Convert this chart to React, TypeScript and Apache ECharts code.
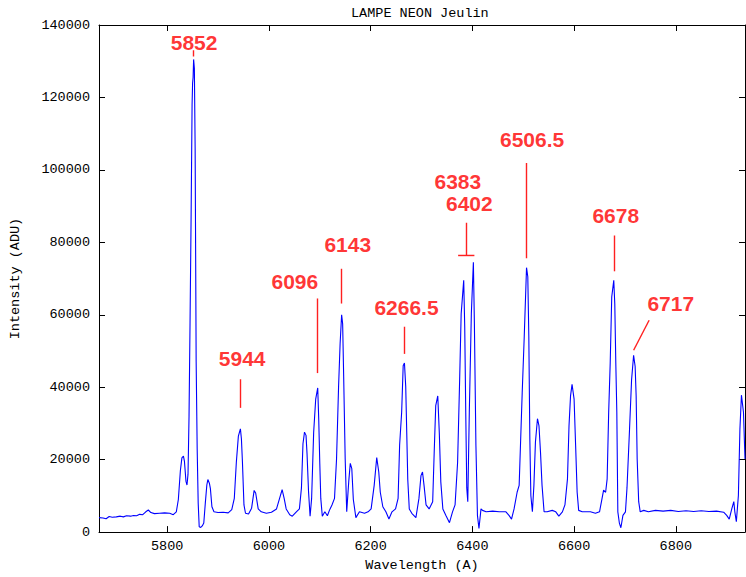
import React, { useEffect, useRef } from "react";
import * as echarts from "echarts";

// Neon lamp spectrum: wavelength (Å) and intensity (ADU)
const wavelength = [
  5666, 5674, 5680, 5686, 5692, 5700, 5708, 5714, 5720, 5728, 5734, 5740, 5746, 5752, 5758, 5763, 5768, 5775,
  5785, 5795, 5805, 5812, 5818, 5822, 5826, 5829, 5832, 5834, 5837, 5839, 5841, 5843, 5845, 5847, 5849, 5850,
  5851, 5852, 5853.5, 5855, 5857, 5859, 5861, 5863, 5866, 5869, 5872, 5875, 5878, 5880, 5883, 5885, 5888, 5892,
  5900, 5910, 5920, 5927, 5932, 5936, 5940, 5944, 5946, 5948, 5951, 5954, 5960, 5966, 5971, 5974, 5979, 5985,
  5995, 6005, 6015, 6021, 6026, 6030, 6034, 6041, 6046, 6054, 6060, 6064, 6067, 6070, 6073, 6075, 6078, 6081,
  6084, 6088, 6092, 6096, 6098, 6100, 6102, 6105, 6110, 6115, 6119, 6124, 6129, 6133, 6137, 6140, 6143, 6145,
  6147, 6150, 6153, 6157, 6160, 6163, 6166, 6171, 6178, 6188, 6195, 6201, 6207, 6212, 6216, 6219, 6224, 6230,
  6236, 6242, 6249, 6254, 6257, 6261, 6264, 6266.5, 6269, 6271, 6273, 6276, 6281, 6289, 6295, 6299, 6302, 6305,
  6309, 6315, 6322, 6325, 6328, 6332, 6335, 6338, 6342, 6348, 6355, 6361, 6366, 6371, 6375, 6378, 6383, 6385,
  6387, 6389, 6391, 6394, 6398, 6402, 6404, 6407, 6410, 6413, 6417, 6420, 6427, 6440, 6453, 6466, 6472, 6477,
  6482, 6488, 6492, 6495, 6498, 6502, 6506.5, 6509, 6511, 6513, 6515, 6518, 6521, 6524, 6528, 6531, 6534, 6537,
  6541, 6547, 6557, 6564, 6570, 6577, 6582, 6587, 6590, 6593, 6596, 6600, 6603, 6606, 6609, 6616, 6626, 6632,
  6642, 6650, 6655, 6658, 6662, 6665, 6668, 6671, 6674, 6678, 6680, 6682, 6684, 6686, 6689, 6692, 6696, 6701,
  6704, 6709, 6713, 6717, 6720, 6722, 6724, 6727, 6730, 6737, 6746, 6760, 6775, 6790, 6805, 6820, 6835, 6850,
  6865, 6880, 6894, 6900, 6905, 6910, 6914, 6916, 6919, 6923, 6926, 6929, 6933, 6936,
];

const intensity = [
  4000, 3900, 3700, 4300, 4100, 4200, 4400, 4200, 4500, 4400, 4600, 4500, 4900, 4800, 5600, 6100, 5400, 5100,
  5200, 5300, 5200, 4800, 5600, 9000, 17000, 20500, 21000, 19500, 14000, 13000, 16000, 32000, 58000, 86000, 118000, 124000,
  125500, 130500, 128000, 106000, 47000, 23000, 8000, 1500, 1300, 1700, 2500, 8000, 13000, 14500, 13500, 12000, 7000, 5600,
  5400, 5500, 5300, 6200, 9300, 19300, 26500, 28500, 25700, 19300, 7500, 5200, 5000, 6600, 11500, 10800, 6400, 5600,
  5200, 5500, 6400, 9300, 11700, 9300, 6400, 4800, 4400, 5600, 6400, 12200, 24400, 27600, 26700, 21600, 11000, 4400,
  9300, 27500, 36700, 39800, 31000, 19300, 9300, 4400, 5600, 4500, 6000, 7500, 9300, 20200, 40200, 52000, 60000, 57500,
  43000, 20200, 5600, 14000, 19000, 17500, 9000, 4000, 5600, 5200, 5600, 6400, 12900, 20600, 16600, 11000, 7000, 5600,
  3600, 5600, 6400, 9300, 24000, 33100, 45900, 46700, 40200, 27500, 14600, 6400, 5200, 4000, 9300, 15600, 16600, 12900,
  7500, 6400, 8400, 22100, 34900, 37600, 27500, 13800, 6400, 4600, 2600, 5600, 7500, 19300, 42000, 60300, 69500, 56600,
  33100, 12200, 8400, 33100, 60300, 74500, 57500, 24000, 4600, 1000, 6400, 6000, 5600, 5800, 5600, 5600, 4600, 3600,
  6400, 11000, 12900, 25700, 38500, 54000, 73000, 70500, 54000, 25700, 10100, 5600, 12900, 24800, 31300, 29300, 22000, 12900,
  5600, 5600, 6000, 5600, 4400, 5600, 7500, 14700, 29300, 37600, 40800, 36700, 24000, 11000, 6000, 5600, 5600, 5600,
  5200, 5600, 9300, 11600, 11000, 14700, 33100, 46700, 64900, 69500, 63000, 46700, 33100, 5600, 2500, 1200, 4600, 5600,
  12200, 28400, 42000, 48800, 45800, 37600, 20200, 8400, 5600, 6000, 5600, 6000, 5800, 6000, 5700, 5900, 5700, 5900,
  5700, 5800, 5500, 4600, 3600, 6400, 8400, 5600, 2900, 10100, 28400, 37800, 33100, 20200,
];

const xTicks = [5800, 6000, 6200, 6400, 6600, 6800];

// Line identifications and where their text sits (data units)
const lineNames = ["5852", "5944", "6096", "6143", "6266.5", "6383", "6402", "6506.5", "6678", "6717"];
const nameWavelength = [5853, 5947.5, 6051, 6155, 6270.5, 6371.5, 6394, 6517.5, 6682, 6790];
const nameIntensity = [135200, 48000, 69300, 79400, 61900, 96700, 90700, 108400, 87400, 63100];

// Leader segments: [λ start, I start, λ end, I end]
const leaders: [number, number, number, number][] = [
  [5852, 133000, 5852, 131300],
  [5944, 42200, 5944, 34300],
  [6096, 64500, 6096, 43900],
  [6143, 72700, 6143, 63100],
  [6266.5, 56700, 6266.5, 49200],
  [6388, 85400, 6388, 76300],
  [6372, 76300, 6404, 76300],
  [6506.5, 101900, 6506.5, 75600],
  [6678, 81900, 6678, 72000],
  [6747.5, 58500, 6717, 50200],
];

const MONO = "'Liberation Mono', 'DejaVu Sans Mono', monospace";
const SANS = "'Liberation Sans', Arial, Helvetica, sans-serif";

export default function App() {
  const ref = useRef<HTMLDivElement>(null);

  useEffect(() => {
    if (!ref.current) return;
    const chart = echarts.init(ref.current, undefined, { renderer: "svg" });

    const tickStyle = { show: true, inside: true, length: 6, lineStyle: { color: "#000", width: 1 } };
    const axisLine = { show: true, onZero: false, lineStyle: { color: "#000", width: 1 } };
    const labelFont = { fontFamily: MONO, fontSize: 13.5, color: "#000" };
    const plain = (v: number) => String(v);

    chart.setOption({
      animation: false,
      backgroundColor: "#fff",
      title: {
        text: "LAMPE NEON Jeulin",
        left: 351,
        top: 6,
        padding: 0,
        textStyle: { fontFamily: MONO, fontSize: 13.5, fontWeight: "normal", color: "#000" },
      },
      grid: { left: 97, top: 25, width: 648, height: 512, containLabel: false },
      xAxis: [
        {
          type: "value",
          position: "bottom",
          min: 5666,
          max: 6936,
          axisLine,
          axisTick: { ...tickStyle, customValues: xTicks },
          axisLabel: { ...labelFont, margin: 7, customValues: xTicks, formatter: plain },
          splitLine: { show: false },
          name: "Wavelength (A)",
          nameLocation: "middle",
          nameGap: 25,
          nameTextStyle: labelFont,
        },
        {
          type: "value",
          position: "top",
          min: 5666,
          max: 6936,
          axisLine,
          axisTick: { ...tickStyle, customValues: xTicks },
          axisLabel: { show: false },
          splitLine: { show: false },
        },
      ],
      yAxis: [
        {
          type: "value",
          position: "left",
          min: 0,
          max: 140000,
          interval: 20000,
          axisLine,
          axisTick: tickStyle,
          axisLabel: { ...labelFont, margin: 9, formatter: plain },
          splitLine: { show: false },
          name: "Intensity (ADU)",
          nameLocation: "middle",
          nameRotate: 90,
          nameGap: 77,
          nameTextStyle: labelFont,
        },
        {
          type: "value",
          position: "right",
          min: 0,
          max: 140000,
          interval: 20000,
          axisLine,
          axisTick: tickStyle,
          axisLabel: { show: false },
          splitLine: { show: false },
        },
      ],
      series: [
        {
          type: "line",
          data: wavelength.map((w, i) => [w, intensity[i]]),
          symbol: "none",
          lineStyle: { color: "#0000ff", width: 1.1 },
          silent: true,
          z: 2,
        },
        {
          type: "lines",
          coordinateSystem: "cartesian2d",
          data: leaders.map((s) => ({ coords: [[s[0], s[1]], [s[2], s[3]]] })),
          lineStyle: { color: "#ff2020", width: 1.4, opacity: 1 },
          silent: true,
          z: 3,
        },
        {
          type: "scatter",
          data: lineNames.map((n, i) => ({ name: n, value: [nameWavelength[i], nameIntensity[i]] })),
          symbolSize: 1,
          itemStyle: { color: "rgba(0,0,0,0)" },
          label: {
            show: true,
            position: "inside",
            formatter: (p: any) => p.name,
            fontFamily: SANS,
            fontSize: 21,
            fontWeight: "bold",
            color: "#ff0000",
          },
          silent: true,
          z: 4,
        },
      ],
    });

    return () => chart.dispose();
  }, []);

  return (
    <div
      ref={ref}
      style={{ position: "absolute", left: 0, top: 0, width: 746, height: 577, background: "#fff" }}
    />
  );
}
